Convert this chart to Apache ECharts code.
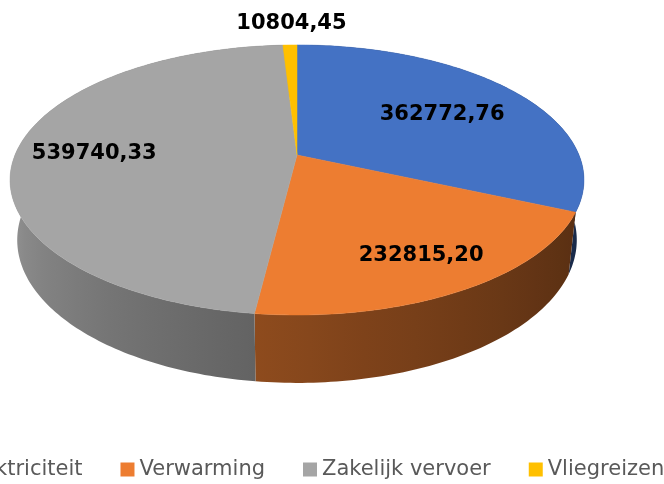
<!DOCTYPE html>
<html lang="nl">
<head>
    <meta charset="UTF-8">
    <title>3D pie</title>
    <script src="https://cdn.jsdelivr.net/npm/echarts@6.0.0/dist/echarts.min.js"></script>
    <style>
        * { margin: 0; padding: 0; }
        html, body { background: #fff; }
        #chart { width: 664px; height: 484px; }
    </style>
</head>
<body>
    <div id="chart"></div>
    <script>
        const categories = ['Elektriciteit', 'Verwarming', 'Zakelijk vervoer', 'Vliegreizen'];
        const values = [362772.76, 232815.20, 539740.33, 10804.45];
        const colors = ['#4472C4', '#ED7D31', '#A5A5A5', '#FFC000'];

        const total = values.reduce((a, b) => a + b, 0);
        const starts = values.map((v, i) => values.slice(0, i).reduce((a, b) => a + b, 0));

        // pseudo perspective: far side is smaller, bottom face slightly smaller than the top
        const geo = { cx: 297, cy: 155, rx: 282, ry: 130.4, k: 0.185, depth: 58.6, shrink: 0.975 };
        // label distance from the centre (share of radius); small slices go outside
        const labelRadius = [0.64, 0.765, 0.733];
        const outsideRadius = 1.26;

        function proj(theta, f, bottom) {
            const u = f * Math.sin(theta), v = -f * Math.cos(theta);
            const s = 1 / (1 - geo.k * v);
            const q = bottom ? geo.shrink : 1;
            const dz = bottom ? geo.depth : 0;
            return [geo.cx + geo.rx * u * s * q, geo.cy + geo.ry * v * s * q + dz * s];
        }

        function shade(hex, b) {
            const n = parseInt(hex.slice(1), 16);
            const r = Math.round(((n >> 16) & 255) * b);
            const g = Math.round(((n >> 8) & 255) * b);
            const bl = Math.round((n & 255) * b);
            return 'rgb(' + r + ',' + g + ',' + bl + ')';
        }

        function bright(deg) {
            let t = (deg - 100) / 160;
            t = Math.max(0, Math.min(1, t));
            return 0.36 + 0.56 * Math.pow(t, 1.4);
        }

        function fmt(v) {
            return v.toFixed(2).replace('.', ',');
        }

        function makeSeries(i) {
            return {
                type: 'custom',
                name: categories[i],
                coordinateSystem: 'none',
                itemStyle: { color: colors[i] },
                data: [[values[i]]],
                silent: true,
                renderItem: function (params, api) {
                    const val = api.value(0);
                    const a0 = starts[i] / total * Math.PI * 2;
                    const a1 = a0 + val / total * Math.PI * 2;
                    const steps = Math.max(2, Math.ceil((a1 - a0) / (Math.PI / 180)));
                    const topArc = [], botArc = [];
                    for (let j = 0; j <= steps; j++) {
                        const t = a0 + (a1 - a0) * j / steps;
                        topArc.push(proj(t, 1, false));
                        botArc.push(proj(t, 1, true));
                    }
                    const children = [];

                    // side wall, gradient over the visible front part
                    const d0 = Math.max(a0 * 180 / Math.PI, 100);
                    const d1 = Math.min(a1 * 180 / Math.PI, 260);
                    let fill = shade(colors[i], bright((d0 + d1) / 2));
                    if (d1 > d0) {
                        const xa = proj(d0 * Math.PI / 180, 1, false)[0];
                        const xb = proj(d1 * Math.PI / 180, 1, false)[0];
                        const xmin = Math.min(xa, xb), xmax = Math.max(xa, xb);
                        const stops = [];
                        for (let j = 0; j <= 8; j++) {
                            const d = d0 + (d1 - d0) * j / 8;
                            const x = proj(d * Math.PI / 180, 1, false)[0];
                            stops.push({ offset: (x - xmin) / (xmax - xmin || 1), color: shade(colors[i], bright(d)) });
                        }
                        stops.sort((p, q) => p.offset - q.offset);
                        fill = new echarts.graphic.LinearGradient(xmin, 0, xmax, 0, stops, true);
                    }
                    children.push({
                        type: 'polygon',
                        z2: 1,
                        shape: { points: topArc.concat(botArc.slice().reverse()) },
                        style: { fill: fill }
                    });

                    // top face
                    children.push({
                        type: 'polygon',
                        z2: 10,
                        shape: { points: [proj(0, 0, false)].concat(topArc) },
                        style: { fill: colors[i], stroke: colors[i], lineWidth: 0.5 }
                    });

                    // data label
                    const mid = (a0 + a1) / 2;
                    const frac = val / total;
                    const r = frac < 0.05 ? outsideRadius : labelRadius[i];
                    const lp = proj(mid, r, false);
                    children.push({
                        type: 'text',
                        z2: 20,
                        style: {
                            text: fmt(val),
                            x: lp[0] + 3,
                            y: lp[1] + 2,
                            fill: '#000',
                            font: 'bold 21px "DejaVu Sans"',
                            align: 'center',
                            verticalAlign: 'middle'
                        }
                    });
                    return { type: 'group', children: children };
                }
            };
        }

        const chart = echarts.init(document.getElementById('chart'), null, { renderer: 'canvas' });
        chart.setOption({
            animation: false,
            legend: {
                data: categories,
                left: -61,
                top: 454,
                width: 1200,
                icon: 'rect',
                itemWidth: 14,
                itemHeight: 14,
                itemGap: 38,
                textStyle: { fontSize: 21, color: '#595959', fontFamily: 'DejaVu Sans' }
            },
            series: categories.map((c, i) => makeSeries(i))
        });
        window.addEventListener('resize', chart.resize);
    </script>
</body>
</html>
